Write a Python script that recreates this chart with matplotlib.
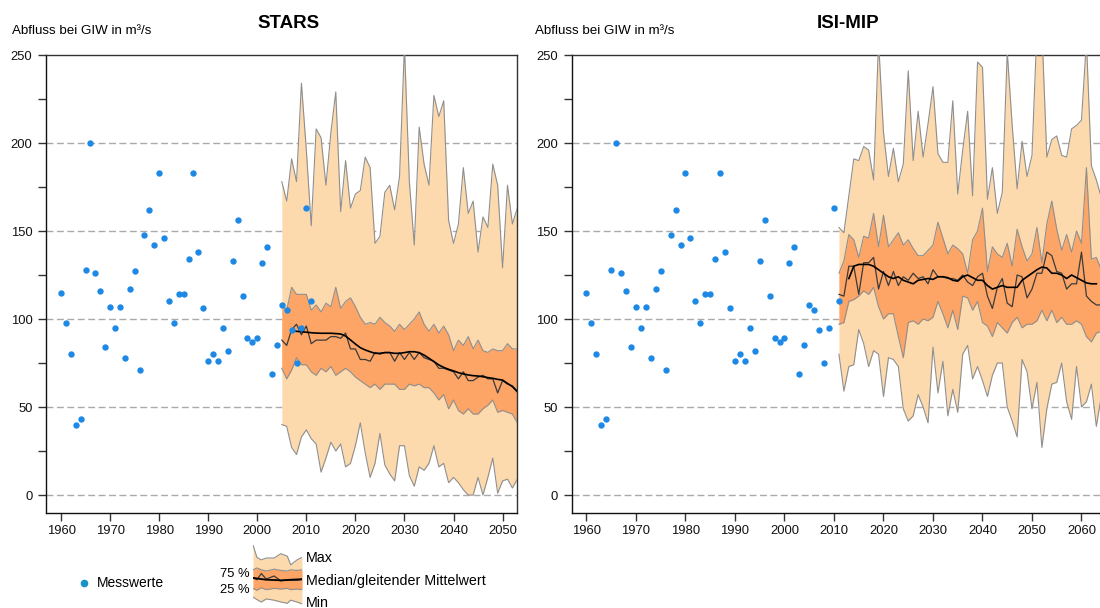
import numpy as np
import matplotlib
matplotlib.use("Agg")
import matplotlib.pyplot as plt
from matplotlib.lines import Line2D
from matplotlib.ticker import MultipleLocator

plt.rcParams['font.family'] = ['Liberation Sans', 'DejaVu Sans']

# --- measured annual discharge at GIW -------------------------------------
obs_years = np.arange(1960, 2012)
obs_values = [115, 98, 80, 40, 43, 128, 200, 126, 116, 84,
              107, 95, 107, 78, 117, 127, 71, 148, 162, 142,
              183, 146, 110, 98, 114, 114, 134, 183, 138, 106,
              76, 80, 76, 95, 82, 133, 156, 113, 89, 87,
              89, 132, 141, 69, 85, 108, 105, 94, 75, 95,
              163, 110]

# --- STARS ensemble statistics ----------------------------------------------
stars_years = np.arange(2005, 2054)
stars_max = [178, 167, 191, 178, 234, 196, 153, 208, 203, 176,
             206, 229, 161, 190, 163, 171, 173, 192, 186, 143,
             147, 172, 176, 162, 181, 255, 178, 142, 209, 188,
             176, 227, 215, 224, 156, 143, 154, 186, 160, 167,
             138, 158, 152, 188, 176, 129, 176, 154, 163]
stars_q75 = [108, 105, 118, 114, 114, 114, 105, 108, 104, 109,
             107, 118, 106, 110, 112, 107, 101, 97, 98, 97,
             101, 98, 96, 93, 97, 94, 97, 100, 104, 97,
             93, 97, 92, 96, 91, 82, 88, 85, 90, 83,
             88, 82, 81, 83, 82, 82, 86, 83, 83]
stars_q25 = [72, 66, 71, 78, 74, 74, 70, 68, 72, 70,
             73, 68, 70, 72, 70, 67, 65, 63, 61, 63,
             60, 63, 63, 63, 60, 60, 63, 62, 63, 61,
             61, 58, 54, 57, 49, 54, 48, 46, 49, 46,
             46, 49, 51, 54, 47, 48, 47, 46, 41]
stars_min = [40, 39, 27, 23, 33, 37, 32, 29, 13, 21,
             30, 25, 29, 16, 18, 28, 41, 24, 10, 18,
             35, 17, 12, 8, 28, 28, 11, 5, 16, 14,
             18, 28, 16, 18, 7, 10, 7, 3, 0, 0,
             10, 0, 10, 21, 1, 8, 9, 4, 9]
stars_median = [88, 85, 94, 97, 91, 96, 86, 88, 88, 88,
                90, 90, 89, 92, 83, 83, 77, 77, 76, 81,
                80, 81, 81, 76, 81, 77, 81, 77, 81, 78,
                77, 76, 72, 72, 71, 70, 66, 70, 65, 65,
                67, 68, 66, 66, 58, 65, 63, 62, 59]
stars_ma_years = np.arange(2007, 2054)
stars_ma = [93.4, 93.0, 92.8, 92.5, 92.2, 92.0, 91.9, 91.9, 91.9, 91.7,
            91.5, 90.3, 88.1, 85.8, 83.7, 82.4, 81.4, 80.5, 80.5, 80.9,
            80.9, 80.5, 80.5, 80.9, 81.4, 81.4, 80.9, 79.5, 77.7, 75.8,
            73.9, 72.5, 71.4, 70.5, 69.5, 68.8, 68.2, 67.8, 67.6, 67.2,
            66.7, 66.3, 65.7, 65.3, 63.4, 61.6, 58.7]

# --- ISI-MIP ensemble statistics --------------------------------------------
isi_years = np.arange(2011, 2065)
isi_max = [152, 149, 170, 191, 190, 198, 196, 179, 258, 206,
           181, 197, 178, 188, 241, 190, 218, 192, 211, 232,
           194, 189, 189, 224, 171, 196, 218,
           170, 246, 243, 168, 186, 160, 172, 252, 210, 174,
           201, 181, 193, 265, 265, 192, 202, 204, 193, 192,
           208, 210, 213, 258, 187, 179, 169]
isi_q75 = [126, 133, 148, 145, 135, 147, 146, 160, 141, 159,
           141, 145, 149, 142, 145, 140, 136, 136, 139, 142,
           155, 146, 137, 142, 140, 137, 126,
           145, 150, 163, 127, 141, 137, 135, 143, 130, 151,
           141, 133, 137, 152, 132, 154, 167, 151, 139, 148,
           138, 150, 143, 186, 134, 135, 128]
isi_q25 = [97, 98, 110, 111, 113, 116, 114, 118, 107, 100,
           103, 103, 90, 78, 98, 99, 97, 100, 99, 101,
           110, 103, 95, 105, 94, 113, 112,
           105, 110, 98, 96, 90, 98, 95, 92, 98, 101,
           95, 97, 97, 99, 105, 99, 105, 98, 101, 97,
           97, 99, 97, 90, 87, 92, 93]
isi_min = [80, 59, 73, 74, 94, 86, 73, 82, 80, 56,
           78, 77, 73, 49, 42, 45, 57, 50, 41, 84,
           58, 76, 45, 60, 47, 80, 85,
           66, 73, 65, 56, 68, 75, 75, 50, 42, 33,
           77, 70, 49, 64, 27, 49, 63, 64, 75, 53,
           43, 73, 50, 53, 63, 39, 56]
isi_median = [114, 113, 130, 130, 114, 132, 132, 135, 117, 127,
              119, 127, 119, 124, 122, 126, 123, 124, 120, 128,
              124, 124, 123, 123, 122, 125, 121,
              119, 124, 126, 113, 106, 118, 123, 109, 107, 125,
              124, 112, 117, 126, 126, 138, 136, 127, 126, 117,
              120, 120, 138, 113, 110, 108, 108]
isi_ma_years = np.arange(2013, 2064)
isi_ma = [123, 130, 131, 131, 131, 130, 128, 126, 124, 123,
          124, 122, 121, 120, 122, 122.5, 123, 122.5, 124, 124,
          123.5, 122, 121.5, 124, 125, 123.5, 122, 122, 119, 117,
          118, 119, 118, 118, 118, 122, 124, 126, 128, 129.5,
          129, 126, 126, 125, 123, 125, 123.5, 122, 120.5, 120,
          120]

# --- legend glyph shape ---------------------------------------------------
glyph_x = [0, 0.08, 0.17, 0.27, 0.43, 0.57, 0.7, 0.77, 0.9, 1.0]
glyph_max = [1.0, 0.80, 0.76, 0.79, 0.79, 0.86, 0.82, 0.68, 0.76, 0.80]
glyph_q75 = [0.60, 0.63, 0.60, 0.58, 0.61, 0.59, 0.58, 0.60, 0.59, 0.60]
glyph_q25 = [0.30, 0.27, 0.31, 0.28, 0.30, 0.29, 0.30, 0.28, 0.29, 0.28]
glyph_min = [0.16, 0.12, 0.08, 0.13, 0.11, 0.08, 0.06, 0.11, 0.08, 0.05]
glyph_median = [0.47, 0.44, 0.54, 0.45, 0.50, 0.42, 0.44, 0.43, 0.43, 0.44]
glyph_ma = [0.47, 0.46, 0.45, 0.44, 0.435, 0.43, 0.435, 0.44, 0.445, 0.45]

LIGHT = '#FDDAAE'
DARK = '#FCA566'
EDGE = '#8f8f8f'
BLUE = '#1E88E5'
SPINE = '#333333'

W, H = 1100, 608
fig = plt.figure(figsize=(W / 100, H / 100), dpi=100)


def px_axes(x0, y_top, x1, y_bot):
    return fig.add_axes([x0 / W, 1 - y_bot / H, (x1 - x0) / W, (y_bot - y_top) / H])


def draw_panel(ax, years, vmax, q75, q25, vmin, med, ma_years, ma, xlim, xticks):
    ax.set_xlim(*xlim)
    ax.set_ylim(-10, 250)
    for v in range(0, 250, 50):
        ax.axhline(v, color='#aaaaaa', lw=1.0, dashes=(5, 2.5), zorder=0)
    ax.fill_between(years, vmin, vmax, color=LIGHT, lw=0, zorder=1)
    ax.fill_between(years, q25, q75, color=DARK, lw=0, zorder=2)
    for s in (vmax, vmin, q75, q25):
        ax.plot(years, s, color=EDGE, lw=0.8, zorder=3)
    ax.plot(years, med, color='#3a3a3a', lw=0.9, zorder=4)
    ax.plot(ma_years, ma, color='black', lw=1.2, zorder=5)
    ax.scatter(obs_years, obs_values, s=21, color=BLUE, lw=0, zorder=6)

    ax.yaxis.set_major_locator(MultipleLocator(50))
    ax.yaxis.set_minor_locator(MultipleLocator(25))
    ax.set_xticks(xticks)
    ax.tick_params(axis='both', which='both', direction='out', length=6,
                   width=1, color=SPINE, labelsize=9.4, labelcolor='#111111')
    ax.tick_params(axis='y', pad=4)
    ax.tick_params(axis='x', pad=3)
    for sp in ax.spines.values():
        sp.set_color(SPINE)
        sp.set_linewidth(1.0)
    ax.spines['left'].set_color('#111111')
    ax.spines['bottom'].set_color('#111111')


# left panel: STARS
ax1 = px_axes(46.3, 55, 517.3, 512.6)
draw_panel(ax1, stars_years, stars_max, stars_q75, stars_q25, stars_min,
           stars_median, stars_ma_years, stars_ma,
           (1957, 2053), range(1960, 2051, 10))

# right panel: ISI-MIP (runs to the right edge of the figure)
ax2 = px_axes(571.65, 55, 1100, 512.6)
draw_panel(ax2, isi_years, isi_max, isi_q75, isi_q25, isi_min,
           isi_median, isi_ma_years, isi_ma,
           (1957, 2063.74), range(1960, 2061, 10))
ax2.spines['right'].set_visible(False)

# titles and axis captions
fig.text(289 / W, 1 - 23 / H, 'STARS', ha='center', va='center',
         fontsize=13.5, fontweight='bold')
fig.text(848 / W, 1 - 23 / H, 'ISI-MIP', ha='center', va='center',
         fontsize=13.5, fontweight='bold')
fig.text(12 / W, 1 - 31 / H, 'Abfluss bei GIW in m³/s', ha='left', va='center',
         fontsize=9.6)
fig.text(535 / W, 1 - 31 / H, 'Abfluss bei GIW in m³/s', ha='left', va='center',
         fontsize=9.6)

# legend: measured values
fig.add_artist(Line2D([84 / W], [1 - 583 / H], marker='o', markersize=4.5,
                      color='#1a93c9', lw=0, transform=fig.transFigure))
fig.text(97 / W, 1 - 583 / H, 'Messwerte', ha='left', va='center', fontsize=10)

# legend: ensemble band glyph
lg = px_axes(253, 545, 302, 607)
lg.set_xlim(0, 1)
lg.set_ylim(0, 1)
lg.axis('off')
lg.fill_between(glyph_x, glyph_min, glyph_max, color=LIGHT, lw=0)
lg.fill_between(glyph_x, glyph_q25, glyph_q75, color=DARK, lw=0)
for s in (glyph_max, glyph_min, glyph_q75, glyph_q25):
    lg.plot(glyph_x, s, color=EDGE, lw=0.8)
lg.plot(glyph_x, glyph_median, color='#3a3a3a', lw=0.9)
lg.plot(glyph_x, glyph_ma, color='black', lw=1.3)

fig.text(250 / W, 1 - 574 / H, '75 %', ha='right', va='center', fontsize=9.4)
fig.text(250 / W, 1 - 590 / H, '25 %', ha='right', va='center', fontsize=9.4)
fig.text(306 / W, 1 - 558 / H, 'Max', ha='left', va='center', fontsize=10.3)
fig.text(306 / W, 1 - 581 / H, 'Median/gleitender Mittelwert', ha='left',
         va='center', fontsize=10.3)
fig.text(306 / W, 1 - 603 / H, 'Min', ha='left', va='center', fontsize=10.3)

fig.savefig('out.png', dpi=100)
